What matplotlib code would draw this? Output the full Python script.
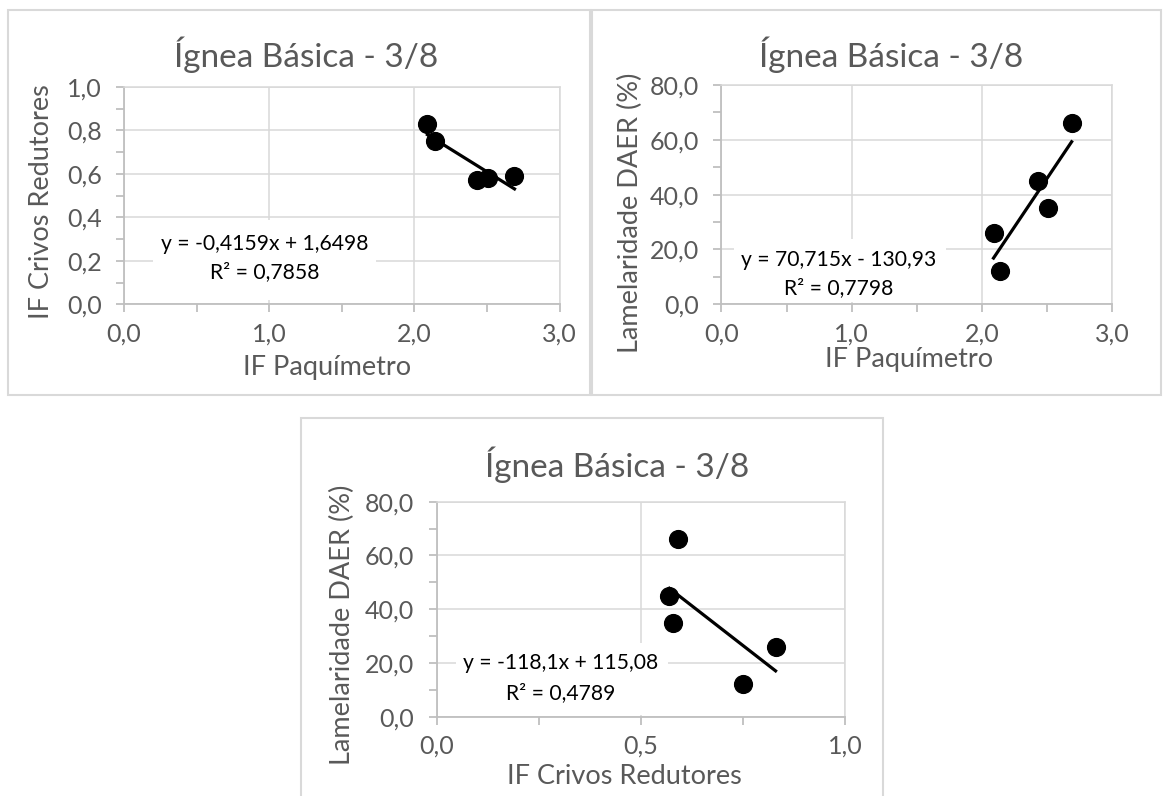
import matplotlib
matplotlib.use("Agg")
import matplotlib.pyplot as plt
from matplotlib.patches import Rectangle
from matplotlib.ticker import MultipleLocator, FuncFormatter
import numpy as np

plt.rcParams['font.family'] = ['Lato', 'DejaVu Sans']

# Measured samples
if_paquimetro = [2.09, 2.14, 2.43, 2.51, 2.69]
if_crivos = [0.83, 0.75, 0.57, 0.58, 0.59]
lamelaridade = [26.0, 12.0, 45.0, 35.0, 66.0]

# Linear trendlines: (slope, intercept, r2)
fit_crivos_vs_paq = (-0.4159, 1.6498, 0.7858)
fit_lam_vs_paq = (70.715, -130.93, 0.7798)
fit_lam_vs_crivos = (-118.1, 115.08, 0.4789)

title = "Ígnea Básica - 3/8"
label_paq = "IF Paquímetro"
label_crivos = "IF Crivos Redutores"
label_lam = "Lamelaridade DAER (%)"

W, H = 1163, 796
TXT = '#595959'
GRID = '#D9D9D9'
AXC = '#BFBFBF'

TITLE_FS = 24
LABEL_FS = 19.5
TICK_FS = 18
EQ_FS = 15.2


def px_rect(l, t, r, b):
    return [l / W, 1 - b / H, (r - l) / W, (b - t) / H]


def comma(v, nd):
    return f"{abs(v):.{nd}f}".replace('.', ',')


def eq_text(fit):
    m, b, r2 = fit
    md = len(f"{m}".split('.')[1]) if '.' in f"{m}" else 0
    bd = len(f"{b}".split('.')[1]) if '.' in f"{b}" else 0
    ms = ('-' if m < 0 else '') + comma(m, md)
    sign = '+' if b >= 0 else '-'
    return f"y = {ms}x {sign} {comma(b, bd)}", f"R² = {comma(r2, 4)}"


fig = plt.figure(figsize=(W / 100, H / 100), dpi=100)

# chart frames
for (l, t, r, b) in [(8, 10, 590, 395), (592, 10, 1161, 395), (301, 418, 883, 800)]:
    fig.add_artist(Rectangle((l / W, 1 - b / H), (r - l) / W, (b - t) / H,
                             transform=fig.transFigure, fill=False,
                             ec=GRID, lw=1.5, zorder=0))


def panel(rect, x, y, fit, xlim, xmaj, xmin, ylim, ymaj, ymin, xnd, ynd,
          title_xy, xlabel, xlabel_xy, ylabel, ylabel_xy, eq_x, eq_y, box):
    ax = fig.add_axes(px_rect(*rect))
    ax.set_xlim(*xlim)
    ax.set_ylim(*ylim)
    ax.xaxis.set_major_locator(MultipleLocator(xmaj))
    ax.xaxis.set_minor_locator(MultipleLocator(xmin))
    ax.yaxis.set_major_locator(MultipleLocator(ymaj))
    ax.yaxis.set_minor_locator(MultipleLocator(ymin))
    ax.xaxis.set_major_formatter(FuncFormatter(lambda v, p: comma(v, xnd)))
    ax.yaxis.set_major_formatter(FuncFormatter(lambda v, p: comma(v, ynd)))
    ax.grid(True, which='major', color=GRID, lw=1.1, zorder=0)
    ax.set_axisbelow(True)
    for s in ['top', 'right']:
        ax.spines[s].set_color(GRID)
        ax.spines[s].set_linewidth(1.1)
    for s in ['left', 'bottom']:
        ax.spines[s].set_color(AXC)
        ax.spines[s].set_linewidth(1.3)
    ax.tick_params(which='both', direction='out', color=AXC, width=1.3,
                   length=6, labelcolor=TXT, labelsize=TICK_FS)
    ax.tick_params(axis='x', which='major', pad=7)
    ax.tick_params(axis='y', which='major', pad=10)

    # white label background
    ax.add_patch(Rectangle((box[0], box[1]), box[2] - box[0], box[3] - box[1],
                           transform=ax.transAxes, fc='white', ec='none',
                           zorder=1.5, clip_on=False))

    m, b, _ = fit
    xs = np.array([min(x), max(x)])
    ax.plot(xs, m * xs + b, color='black', lw=2.3, zorder=3)
    ax.plot(x, y, 'o', color='black', ms=12.8, zorder=4)

    l1, l2 = eq_text(fit)
    ax.text(eq_x, eq_y[0], l1, transform=ax.transAxes, ha='center',
            va='center', fontsize=EQ_FS, color='black', zorder=5)
    ax.text(eq_x, eq_y[1], l2, transform=ax.transAxes, ha='center',
            va='center', fontsize=EQ_FS, color='black', zorder=5)

    fig.text(title_xy[0] / W, 1 - title_xy[1] / H, title, ha='center',
             va='center', fontsize=TITLE_FS, color=TXT)
    fig.text(xlabel_xy[0] / W, 1 - xlabel_xy[1] / H, xlabel, ha='center',
             va='center', fontsize=LABEL_FS, color=TXT)
    fig.text(ylabel_xy[0] / W, 1 - ylabel_xy[1] / H, ylabel, ha='center',
             va='center', fontsize=LABEL_FS, color=TXT, rotation=90)
    return ax


panel((124, 87, 559.5, 304.3), if_paquimetro, if_crivos, fit_crivos_vs_paq,
      (0, 3), 1.0, 0.5, (0, 1), 0.2, 0.1, 1, 1,
      (306, 55), label_paq, (327, 367), label_crivos, (42, 202),
      0.3226, (0.2766, 0.148), (0.067, 0.02, 0.579, 0.39))

panel((721.4, 85, 1112, 304.3), if_paquimetro, lamelaridade, fit_lam_vs_paq,
      (0, 3), 1.0, 0.5, (0, 80), 20, 10, 1, 1,
      (891, 55), label_paq, (909, 359), label_lam, (630, 213),
      0.301, (0.202, 0.073), (0.032, 0.01, 0.575, 0.298))

panel((436.6, 501.7, 845, 716.7), if_crivos, lamelaridade, fit_lam_vs_crivos,
      (0, 1), 0.5, 0.25, (0, 80), 20, 10, 1, 1,
      (617, 465), label_crivos, (624, 777), label_lam, (342, 625),
      0.3046, (0.248, 0.109), (0.047, 0.01, 0.567, 0.341))

fig.savefig('out.png', dpi=100, facecolor='white')
